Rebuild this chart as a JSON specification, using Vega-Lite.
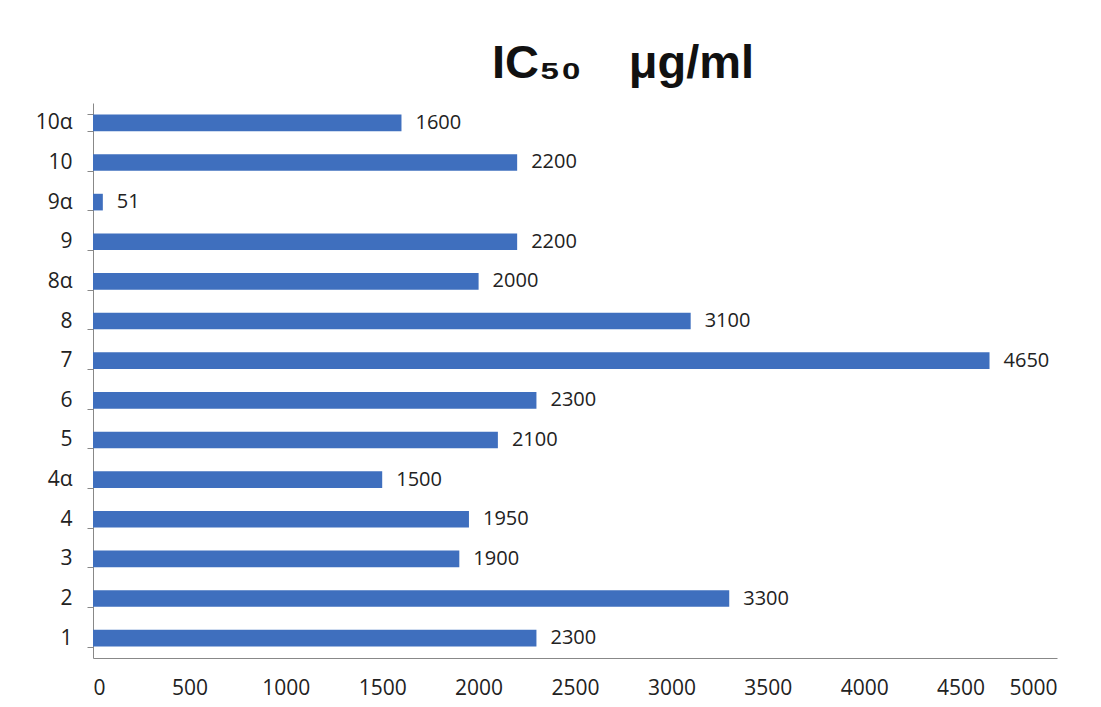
{
  "$schema": "https://vega.github.io/schema/vega-lite/v6.json",
  "width": 964,
  "height": 555,
  "autosize": {"type": "none"},
  "padding": {"left": 93, "top": 103, "right": 44, "bottom": 49},
  "background": "white",
  "title": {
    "text": "IC₅₀\u2002\u2002μg/ml",
    "font": "Liberation Sans",
    "fontSize": 47,
    "fontWeight": "bold",
    "color": "#111111",
    "anchor": "middle",
    "dx": 48,
    "offset": 4
  },
  "data": {
    "values": [
      {"compound": "10α", "ic50": 1600},
      {"compound": "10", "ic50": 2200},
      {"compound": "9α", "ic50": 51},
      {"compound": "9", "ic50": 2200},
      {"compound": "8α", "ic50": 2000},
      {"compound": "8", "ic50": 3100},
      {"compound": "7", "ic50": 4650},
      {"compound": "6", "ic50": 2300},
      {"compound": "5", "ic50": 2100},
      {"compound": "4α", "ic50": 1500},
      {"compound": "4", "ic50": 1950},
      {"compound": "3", "ic50": 1900},
      {"compound": "2", "ic50": 3300},
      {"compound": "1", "ic50": 2300}
    ]
  },
  "config": {"view": {"stroke": null}},
  "encoding": {
    "y": {
      "field": "compound",
      "type": "nominal",
      "sort": null,
      "scale": {"paddingInner": 0.58, "paddingOuter": 0.29},
      "axis": {
        "title": null,
        "tickBand": "extent",
        "tickSize": 6,
        "tickColor": "#888888",
        "domainColor": "#888888",
        "labelFont": "Open Sans",
        "labelFontSize": 21,
        "labelColor": "#222222",
        "labelPadding": 15
      }
    },
    "x": {
      "field": "ic50",
      "type": "quantitative",
      "scale": {"domain": [0, 5000], "nice": false},
      "axis": {
        "title": null,
        "values": [0, 500, 1000, 1500, 2000, 2500, 3000, 3500, 4000, 4500, 5000],
        "format": "d",
        "grid": false,
        "ticks": false,
        "domainColor": "#888888",
        "labelFont": "Open Sans",
        "labelFontSize": 21,
        "labelColor": "#222222",
        "labelPadding": 19
      }
    }
  },
  "layer": [
    {"mark": {"type": "bar", "color": "#3F6FBE"}},
    {
      "mark": {"type": "text", "align": "left", "dx": 14, "font": "Open Sans", "fontSize": 20, "color": "#222222"},
      "encoding": {"text": {"field": "ic50", "type": "quantitative", "format": "d"}}
    }
  ]
}
